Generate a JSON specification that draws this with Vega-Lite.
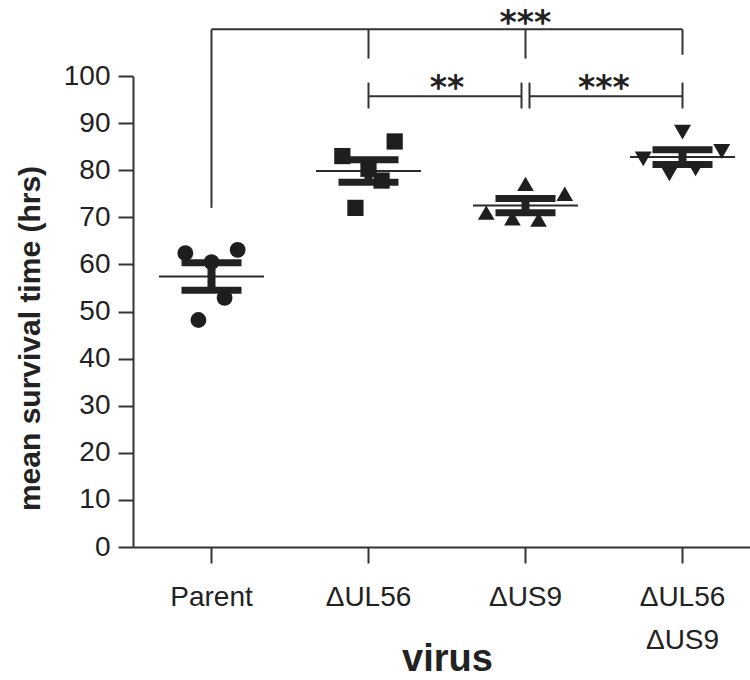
{
  "$schema": "https://vega.github.io/schema/vega-lite/v6.json",
  "width": 617,
  "height": 471,
  "autosize": {"type": "none"},
  "padding": {"left": 133, "top": 76, "right": 0, "bottom": 133},
  "background": "white",
  "config": {
    "view": {"stroke": null},
    "font": "Liberation Sans",
    "axis": {"grid": false, "domainColor": "#333333", "tickColor": "#333333", "labelColor": "#222222", "titleColor": "#222222", "domainWidth": 2, "tickWidth": 2, "labelFont": "Liberation Sans", "titleFont": "Liberation Sans"}
  },
  "datasets": {
    "mice": [
      {"virus": "Parent", "col": 2, "value": 62.4},
      {"virus": "Parent", "col": 3, "value": 48.2},
      {"virus": "Parent", "col": 4, "value": 60.5},
      {"virus": "Parent", "col": 5, "value": 52.9},
      {"virus": "Parent", "col": 6, "value": 63.1},
      {"virus": "ΔUL56", "col": 2, "value": 83.0},
      {"virus": "ΔUL56", "col": 3, "value": 72.0},
      {"virus": "ΔUL56", "col": 4, "value": 80.3},
      {"virus": "ΔUL56", "col": 5, "value": 77.8},
      {"virus": "ΔUL56", "col": 6, "value": 86.1},
      {"virus": "ΔUS9", "col": 1, "value": 71.0},
      {"virus": "ΔUS9", "col": 3, "value": 69.8},
      {"virus": "ΔUS9", "col": 4, "value": 77.1},
      {"virus": "ΔUS9", "col": 5, "value": 69.5},
      {"virus": "ΔUS9", "col": 7, "value": 75.0},
      {"virus": "ΔUL56 ΔUS9", "col": 1, "value": 82.4},
      {"virus": "ΔUL56 ΔUS9", "col": 3, "value": 79.2},
      {"virus": "ΔUL56 ΔUS9", "col": 4, "value": 88.1},
      {"virus": "ΔUL56 ΔUS9", "col": 5, "value": 80.3},
      {"virus": "ΔUL56 ΔUS9", "col": 7, "value": 84.0}
    ]
  },
  "layer": [
    {
      "data": {"name": "mice"},
      "mark": {"type": "tick", "thickness": 2, "size": 105, "color": "#2a2a2a", "opacity": 1},
      "encoding": {
        "x": {"field": "virus", "type": "nominal", "title": "virus",
          "scale": {"domain": ["Parent", "ΔUL56", "ΔUS9", "ΔUL56 ΔUS9"], "range": [0, 628], "paddingInner": 0, "paddingOuter": 0},
          "axis": {"tickSize": 16, "labelFontSize": 28, "labelPadding": 20, "labelLineHeight": 43, "labelAngle": 0,
            "labelExpr": "datum.value == 'ΔUL56 ΔUS9' ? ['ΔUL56','ΔUS9'] : datum.value",
            "title": "virus", "titleFontSize": 38, "titleFontWeight": "bold", "titleY": 112, "titleBaseline": "middle"}},
        "y": {"aggregate": "mean", "field": "value", "type": "quantitative", "title": "mean survival time (hrs)",
          "scale": {"domain": [0, 100], "nice": false},
          "axis": {"values": [0, 10, 20, 30, 40, 50, 60, 70, 80, 90, 100], "tickSize": 15, "labelFontSize": 28, "labelPadding": 8,
            "title": "mean survival time (hrs)", "titleFontSize": 30, "titleFontWeight": "bold", "titleX": -103, "titleY": 262, "titleAngle": -90, "titleAlign": "center", "titleBaseline": "middle"}}
      }
    },
    {
      "data": {"name": "mice"},
      "mark": {"type": "errorbar", "extent": "stderr", "color": "#222222", "opacity": 1, "ticks": {"size": 60, "thickness": 7, "color": "#222222", "opacity": 1}, "rule": {"strokeWidth": 8, "color": "#222222", "opacity": 1}},
      "encoding": {
        "x": {"field": "virus", "type": "nominal", "title": "virus"},
        "y": {"field": "value", "type": "quantitative", "title": "mean survival time (hrs)"}
      }
    },
    {
      "data": {"name": "mice"},
      "mark": {"type": "point", "filled": true, "opacity": 1, "color": "#1e1e1e"},
      "encoding": {
        "x": {"field": "virus", "type": "nominal", "title": "virus"},
        "xOffset": {"field": "col", "type": "ordinal", "scale": {"domain": [-2, -1, 0, 1, 2, 3, 4, 5, 6, 7, 8, 9, 10], "paddingInner": 0, "paddingOuter": 0}},
        "y": {"field": "value", "type": "quantitative", "title": "mean survival time (hrs)"},
        "shape": {"field": "virus", "type": "nominal", "scale": {"domain": ["Parent", "ΔUL56", "ΔUS9", "ΔUL56 ΔUS9"], "range": ["circle", "square", "triangle-up", "triangle-down"]}, "legend": null},
        "size": {"field": "virus", "type": "ordinal", "scale": {"domain": ["Parent", "ΔUL56", "ΔUS9", "ΔUL56 ΔUS9"], "range": [250, 290, 350, 380]}, "legend": null}
      }
    },
    {
      "data": {"values": [{"a": "Parent", "b": "ΔUL56 ΔUS9", "y": 109.9}]},
      "mark": {"type": "rule", "strokeWidth": 2, "color": "#333333"},
      "encoding": {
        "x": {"field": "a", "type": "nominal", "title": "virus"},
        "x2": {"field": "b"},
        "y": {"field": "y", "type": "quantitative", "title": "mean survival time (hrs)"}
      }
    },
    {
      "data": {"values": [{"a": "ΔUL56", "b": "ΔUS9", "y": 95.7}]},
      "mark": {"type": "rule", "strokeWidth": 2, "color": "#333333", "x2Offset": -4},
      "encoding": {
        "x": {"field": "a", "type": "nominal", "title": "virus"},
        "x2": {"field": "b"},
        "y": {"field": "y", "type": "quantitative", "title": "mean survival time (hrs)"}
      }
    },
    {
      "data": {"values": [{"a": "ΔUS9", "b": "ΔUL56 ΔUS9", "y": 95.7}]},
      "mark": {"type": "rule", "strokeWidth": 2, "color": "#333333", "xOffset": 4},
      "encoding": {
        "x": {"field": "a", "type": "nominal", "title": "virus"},
        "x2": {"field": "b"},
        "y": {"field": "y", "type": "quantitative", "title": "mean survival time (hrs)"}
      }
    },
    {
      "data": {"values": [
        {"a": "Parent", "lo": 72, "hi": 109.9},
        {"a": "ΔUL56", "lo": 103.7, "hi": 109.9},
        {"a": "ΔUS9", "lo": 103.7, "hi": 109.9},
        {"a": "ΔUL56 ΔUS9", "lo": 104.5, "hi": 109.9},
        {"a": "ΔUL56", "lo": 93.1, "hi": 98.6},
        {"a": "ΔUL56 ΔUS9", "lo": 93.1, "hi": 98.6}
      ]},
      "mark": {"type": "rule", "strokeWidth": 2, "color": "#333333"},
      "encoding": {
        "x": {"field": "a", "type": "nominal", "title": "virus"},
        "y": {"field": "lo", "type": "quantitative", "title": "mean survival time (hrs)"},
        "y2": {"field": "hi"}
      }
    },
    {
      "data": {"values": [{"a": "ΔUS9", "lo": 93.1, "hi": 98.6}]},
      "mark": {"type": "rule", "strokeWidth": 2, "color": "#333333", "xOffset": -4},
      "encoding": {
        "x": {"field": "a", "type": "nominal", "title": "virus"},
        "y": {"field": "lo", "type": "quantitative", "title": "mean survival time (hrs)"},
        "y2": {"field": "hi"}
      }
    },
    {
      "data": {"values": [{"a": "ΔUS9", "lo": 93.1, "hi": 98.6}]},
      "mark": {"type": "rule", "strokeWidth": 2, "color": "#333333", "xOffset": 4},
      "encoding": {
        "x": {"field": "a", "type": "nominal", "title": "virus"},
        "y": {"field": "lo", "type": "quantitative", "title": "mean survival time (hrs)"},
        "y2": {"field": "hi"}
      }
    },
    {
      "data": {"values": [{"a": "ΔUL56", "t": "**", "y": 95.2}, {"a": "ΔUS9", "t": "***", "y": 95.2}]},
      "mark": {"type": "text", "fontSize": 33, "font": "DejaVu Sans", "fontWeight": "bold", "color": "#222222", "baseline": "alphabetic", "align": "center"},
      "encoding": {
        "x": {"field": "a", "type": "nominal", "title": "virus", "bandPosition": 1},
        "y": {"field": "y", "type": "quantitative", "title": "mean survival time (hrs)"},
        "text": {"field": "t"}
      }
    },
    {
      "data": {"values": [{"a": "ΔUS9", "t": "***", "y": 108.9}]},
      "mark": {"type": "text", "fontSize": 33, "font": "DejaVu Sans", "fontWeight": "bold", "color": "#222222", "baseline": "alphabetic", "align": "center"},
      "encoding": {
        "x": {"field": "a", "type": "nominal", "title": "virus"},
        "y": {"field": "y", "type": "quantitative", "title": "mean survival time (hrs)"},
        "text": {"field": "t"}
      }
    }
  ]
}
